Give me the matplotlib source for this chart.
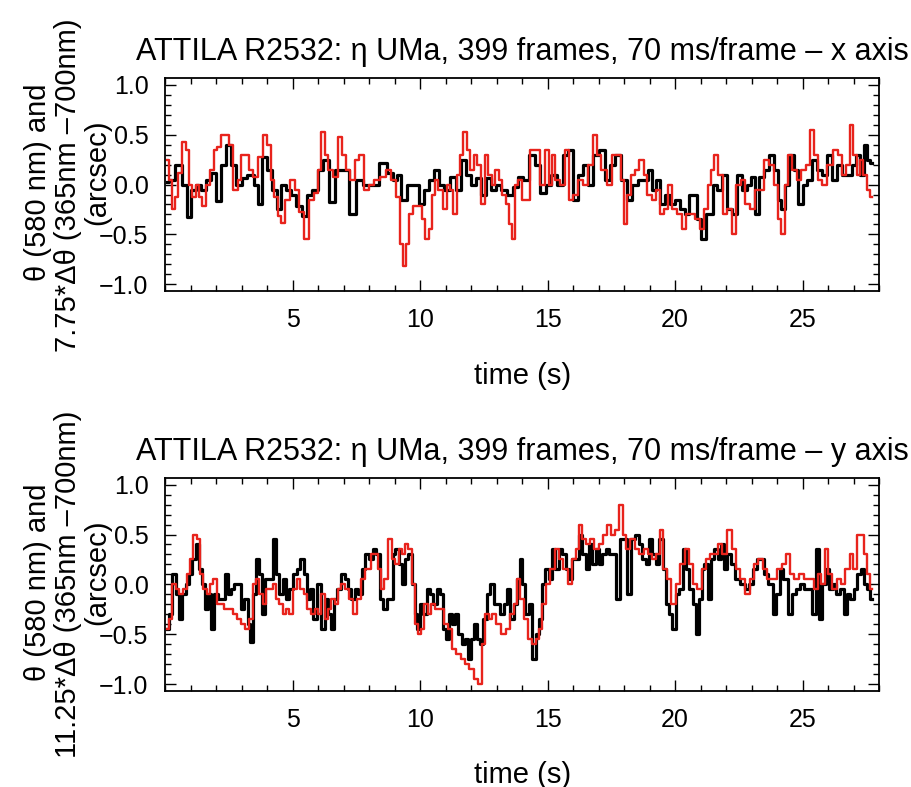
import matplotlib
matplotlib.use("Agg")
import matplotlib.pyplot as plt
from matplotlib.ticker import MultipleLocator

plt.rcParams['font.family'] = ['Liberation Sans', 'DejaVu Sans']

# x axis panel: black = theta(580 nm), red = 7.75*dtheta
x_black_t = [0.06, 0.25, 0.55, 0.75, 0.94, 1.1, 1.3, 1.5, 1.7, 1.9, 2.1, 2.3, 2.5,
             2.7, 2.9, 3.1, 3.35, 3.6, 3.7, 3.9, 4.1, 4.3, 4.45, 4.65, 4.85, 5.05,
             5.25, 5.45, 5.65, 5.9, 6.1, 6.3, 6.55, 6.8, 7.05, 7.35, 7.6, 7.9, 8.2,
             8.6, 8.8, 9.05, 9.14, 9.34, 9.6, 9.86, 10.06, 10.26, 10.45, 10.65,
             10.85, 11.04, 11.31, 11.5, 11.7, 11.9, 12.09, 12.29, 12.49, 12.68,
             12.88, 13.08, 13.27, 13.54, 13.73, 13.93, 14.13, 14.39, 14.59, 14.85,
             15.05, 15.24, 15.51, 15.7, 15.9, 16.1, 16.29, 16.49, 16.69, 16.88,
             17.15, 17.34, 17.54, 17.74, 18.0, 18.2, 18.39, 18.66, 18.85, 19.04,
             19.18, 19.31, 19.5, 19.7, 19.9, 20.09, 20.29, 20.49, 20.62, 20.75,
             20.95, 21.11, 21.28, 21.41, 21.56, 21.74, 21.93, 22.13, 22.33, 22.52,
             22.72, 22.92, 23.05, 23.22, 23.38, 23.57, 23.77, 23.97, 24.1, 24.23,
             24.36, 24.56, 24.75, 24.91, 25.08, 25.28, 25.48, 25.67, 25.87, 26.07,
             26.26, 26.46, 26.66, 26.85, 27.02, 27.18, 27.34, 27.44, 27.57, 27.71]
x_black_v = [0.03, 0.05, 0.2, 0.0, -0.33, -0.05, 0.0, -0.05, 0.05, 0.12, -0.17, 0.2,
             0.4, 0.2, 0.0, 0.07, 0.1, 0.0, -0.2, 0.28, 0.15, -0.05, -0.25, 0.0,
             -0.05, -0.1, -0.22, -0.32, -0.1, -0.05, 0.15, 0.25, -0.18, 0.15, 0.15,
             -0.3, 0.05, 0.0, 0.0, 0.22, 0.12, 0.05, 0.1, -0.15, 0.0, 0.0, -0.2,
             -0.05, 0.05, 0.15, 0.0, -0.05, 0.08, -0.05, 0.25, 0.1, 0.0, 0.07, -0.1,
             0.07, -0.05, 0.0, -0.05, -0.1, -0.02, 0.08, 0.05, 0.3, 0.2, -0.08, 0.0,
             0.1, 0.0, 0.3, 0.35, -0.15, 0.1, 0.2, 0.0, 0.3, 0.35, 0.05, 0.2, 0.3,
             0.05, -0.15, 0.0, 0.05, 0.05, 0.15, -0.05, 0.05, -0.2, -0.1, -0.2,
             -0.15, -0.25, -0.3, -0.1, -0.1, -0.35, -0.55, -0.3, -0.3, 0.0, -0.05,
             0.1, -0.25, -0.3, 0.1, -0.05, 0.0, 0.08, -0.3, 0.08, 0.15, 0.3, 0.15,
             -0.15, -0.25, 0.0, 0.3, 0.15, -0.2, 0.0, 0.05, 0.25, 0.15, 0.1, 0.3,
             0.05, 0.2, 0.1, 0.1, 0.2, 0.3, 0.1, 0.4, 0.25, 0.22]

x_red_t = [0.09, 0.22, 0.31, 0.44, 0.61, 0.74, 0.87, 1.0, 1.14, 1.27, 1.4, 1.53,
           1.66, 1.86, 1.99, 2.12, 2.25, 2.45, 2.58, 2.78, 2.91, 3.04, 3.23, 3.37,
           3.56, 3.76, 3.89, 4.09, 4.22, 4.35, 4.48, 4.61, 4.81, 5.01, 5.14, 5.33,
           5.53, 5.73, 5.92, 6.06, 6.19, 6.32, 6.45, 6.71, 6.84, 7.04, 7.17, 7.37,
           7.5, 7.7, 7.89, 8.09, 8.29, 8.55, 8.75, 8.94, 9.14, 9.27, 9.35, 9.53,
           9.63, 9.8, 9.99, 10.12, 10.28, 10.39, 10.52, 10.62, 10.78, 10.98, 11.11,
           11.24, 11.37, 11.5, 11.63, 11.77, 11.9, 12.03, 12.16, 12.29, 12.46,
           12.59, 12.75, 12.88, 13.01, 13.14, 13.3, 13.43, 13.54, 13.64, 13.77,
           13.9, 14.06, 14.26, 14.39, 14.59, 14.78, 14.98, 15.11, 15.24, 15.37,
           15.57, 15.77, 15.9, 16.1, 16.29, 16.49, 16.69, 16.88, 17.01, 17.21,
           17.41, 17.61, 17.8, 17.93, 18.06, 18.2, 18.33, 18.52, 18.68, 18.85,
           18.98, 19.18, 19.33, 19.46, 19.64, 19.79, 19.96, 20.16, 20.36, 20.49,
           20.69, 20.88, 21.08, 21.21, 21.34, 21.47, 21.6, 21.77, 21.96, 22.13,
           22.33, 22.48, 22.65, 22.82, 23.05, 23.18, 23.38, 23.57, 23.77, 23.97,
           24.1, 24.23, 24.36, 24.49, 24.69, 24.88, 25.02, 25.21, 25.37, 25.5,
           25.67, 25.87, 26.07, 26.29, 26.46, 26.62, 26.79, 26.89, 27.05, 27.18,
           27.31, 27.44, 27.6, 27.71]
x_red_v = [0.25, 0.05, -0.25, -0.12, 0.12, 0.43, 0.35, 0.0, -0.12, 0.0, -0.12,
           -0.22, 0.0, 0.15, 0.35, 0.38, 0.5, 0.5, 0.4, -0.05, 0.05, 0.3, 0.3,
           0.15, 0.08, 0.28, 0.5, 0.4, 0.05, -0.12, -0.32, -0.39, -0.15, 0.05,
           -0.05, -0.28, -0.55, -0.15, -0.08, 0.15, 0.53, 0.3, 0.15, 0.08, 0.48,
           0.3, 0.15, 0.05, 0.25, 0.3, -0.05, 0.0, 0.05, 0.08, 0.15, 0.05, -0.12,
           -0.6, -0.82, -0.6, -0.3, -0.22, -0.22, -0.35, -0.55, -0.45, -0.1, 0.05,
           -0.05, -0.25, 0.0, -0.05, -0.3, 0.1, 0.3, 0.53, 0.35, 0.15, 0.3, 0.2,
           -0.2, 0.3, 0.1, 0.0, 0.15, 0.05, -0.1, -0.2, -0.4, -0.55, 0.0, 0.05,
           -0.15, -0.15, 0.35, 0.35, 0.0, 0.35, 0.0, 0.3, 0.05, 0.0, 0.35, -0.15,
           -0.1, 0.05, 0.0, 0.2, 0.5, 0.3, 0.15, 0.0, 0.3, 0.3, 0.05, -0.4, -0.1,
           0.1, 0.15, 0.25, 0.1, -0.1, -0.15, -0.05, -0.3, -0.25, 0.0, -0.25, -0.3,
           -0.45, -0.3, -0.3, -0.35, -0.45, -0.25, 0.0, 0.15, 0.3, 0.1, -0.3,
           -0.25, -0.5, 0.0, 0.05, -0.2, -0.25, -0.05, -0.05, 0.25, 0.2, 0.0,
           -0.35, -0.5, 0.0, 0.3, 0.15, 0.05, 0.15, 0.2, 0.55, 0.3, 0.05, 0.0, 0.2,
           0.35, 0.3, 0.1, 0.2, 0.6, 0.3, 0.1, 0.25, 0.1, -0.05, -0.12]

# y axis panel: black = theta(580 nm), red = 11.25*dtheta
y_black_t = [0.09, 0.22, 0.35, 0.48, 0.61, 0.74, 0.87, 1.0, 1.14, 1.27, 1.4, 1.53,
             1.62, 1.73, 1.86, 1.99, 2.19, 2.32, 2.41, 2.51, 2.64, 2.78, 2.91, 3.04,
             3.17, 3.3, 3.39, 3.5, 3.63, 3.76, 3.85, 3.98, 4.15, 4.29, 4.42, 4.55,
             4.68, 4.81, 4.94, 5.07, 5.24, 5.37, 5.5, 5.64, 5.73, 5.86, 6.06, 6.19,
             6.32, 6.45, 6.56, 6.69, 6.82, 6.98, 7.11, 7.24, 7.37, 7.5, 7.66, 7.79,
             7.92, 8.09, 8.22, 8.35, 8.48, 8.62, 8.75, 8.88, 8.97, 9.1, 9.21, 9.34,
             9.47, 9.6, 9.73, 9.84, 9.93, 10.06, 10.19, 10.32, 10.45, 10.58, 10.72,
             10.85, 10.98, 11.07, 11.17, 11.31, 11.44, 11.57, 11.7, 11.83, 11.94,
             12.07, 12.16, 12.29, 12.42, 12.55, 12.68, 12.82, 12.95, 13.08, 13.21,
             13.34, 13.47, 13.6, 13.73, 13.87, 13.96, 14.06, 14.19, 14.32, 14.46,
             14.59, 14.72, 14.85, 14.98, 15.11, 15.24, 15.37, 15.51, 15.64, 15.77,
             15.9, 16.03, 16.16, 16.29, 16.42, 16.56, 16.69, 16.82, 16.95, 17.08,
             17.21, 17.34, 17.47, 17.61, 17.76, 17.89, 18.02, 18.2, 18.33, 18.52,
             18.65, 18.78, 18.91, 19.04, 19.18, 19.31, 19.44, 19.57, 19.7, 19.83,
             19.96, 20.09, 20.23, 20.36, 20.49, 20.62, 20.75, 20.88, 20.99, 21.08,
             21.21, 21.34, 21.47, 21.6, 21.74, 21.87, 21.96, 22.09, 22.26, 22.46,
             22.65, 22.82, 22.98, 23.14, 23.27, 23.4, 23.57, 23.74, 23.9, 24.03,
             24.16, 24.33, 24.49, 24.66, 24.82, 24.98, 25.15, 25.32, 25.45, 25.58,
             25.71, 25.84, 25.97, 26.1, 26.26, 26.39, 26.55, 26.68, 26.81, 26.94,
             27.08, 27.21, 27.34, 27.47, 27.6, 27.71]
y_black_v = [-0.45, -0.3, 0.1, -0.1, -0.35, -0.1, 0.0, 0.1, 0.25, 0.4, 0.15, 0.0,
             -0.25, -0.1, -0.45, -0.1, -0.15, -0.15, 0.1, -0.1, -0.05, 0.0, 0.0,
             -0.25, -0.15, -0.4, -0.58, -0.1, 0.25, 0.1, -0.3, 0.05, 0.05, 0.45,
             0.1, -0.1, 0.05, -0.15, -0.05, 0.1, 0.15, 0.25, 0.1, -0.15, -0.05,
             -0.35, 0.0, -0.45, -0.15, -0.3, -0.45, -0.15, -0.05, 0.1, 0.05, -0.05,
             -0.15, -0.05, -0.1, 0.15, 0.3, 0.25, 0.35, 0.3, -0.15, -0.25, -0.15,
             -0.15, 0.3, 0.35, 0.2, 0.0, 0.25, 0.3, 0.0, -0.3, -0.45, -0.2, -0.3,
             -0.05, -0.1, -0.2, -0.05, -0.1, -0.45, -0.55, -0.3, -0.4, -0.3, -0.5,
             -0.6, -0.55, -0.75, -0.55, -0.4, -0.55, -0.6, -0.35, -0.1, 0.0, -0.2,
             -0.2, -0.3, -0.2, -0.05, -0.35, -0.2, 0.05, 0.25, 0.0, -0.3, -0.2,
             -0.75, -0.5, -0.35, 0.0, 0.15, 0.05, 0.35, 0.15, 0.35, 0.3, 0.15, 0.05,
             0.25, 0.25, 0.5, 0.3, 0.15, 0.4, 0.2, 0.35, 0.2, 0.3, 0.35, 0.3, 0.3,
             -0.15, 0.45, 0.45, -0.1, 0.45, 0.5, 0.4, 0.25, 0.2, 0.45, 0.3, 0.2,
             0.45, 0.15, -0.2, -0.3, -0.45, -0.1, -0.05, 0.35, 0.15, -0.05, -0.2,
             -0.5, -0.15, 0.15, 0.2, -0.15, 0.25, 0.35, 0.25, 0.4, 0.15, 0.3, 0.2,
             0.05, 0.0, -0.05, 0.0, 0.15, 0.25, 0.25, 0.1, 0.0, -0.3, -0.1, 0.15,
             0.05, -0.3, -0.1, -0.05, 0.0, -0.05, -0.05, -0.3, 0.35, -0.35, 0.0,
             0.15, -0.05, 0.0, -0.1, -0.05, -0.3, -0.1, -0.15, -0.05, 0.1, 0.15,
             0.0, -0.05, -0.15]

y_red_t = [0.09, 0.22, 0.35, 0.48, 0.61, 0.78, 0.94, 1.04, 1.17, 1.31, 1.44, 1.57,
           1.7, 1.83, 1.96, 2.12, 2.25, 2.41, 2.58, 2.75, 2.91, 3.06, 3.23, 3.37,
           3.5, 3.63, 3.76, 3.89, 4.02, 4.15, 4.29, 4.42, 4.55, 4.68, 4.81, 4.94,
           5.07, 5.24, 5.37, 5.5, 5.64, 5.79, 5.93, 6.06, 6.19, 6.32, 6.45, 6.58,
           6.71, 6.84, 6.98, 7.11, 7.3, 7.47, 7.6, 7.76, 7.89, 8.02, 8.16, 8.29,
           8.39, 8.52, 8.68, 8.81, 8.97, 9.1, 9.23, 9.34, 9.47, 9.6, 9.73, 9.86,
           9.99, 10.1, 10.23, 10.36, 10.49, 10.65, 10.85, 11.04, 11.17, 11.33,
           11.5, 11.67, 11.83, 12.03, 12.2, 12.36, 12.49, 12.62, 12.75, 12.91,
           13.08, 13.28, 13.47, 13.6, 13.73, 13.87, 14.0, 14.17, 14.32, 14.46,
           14.59, 14.72, 14.85, 15.01, 15.18, 15.37, 15.53, 15.7, 15.87, 16.03,
           16.16, 16.29, 16.42, 16.58, 16.75, 16.92, 17.08, 17.24, 17.41, 17.58,
           17.74, 17.89, 18.02, 18.16, 18.33, 18.52, 18.68, 18.85, 19.02, 19.18,
           19.33, 19.46, 19.6, 19.77, 19.94, 20.09, 20.29, 20.46, 20.62, 20.78,
           20.95, 21.12, 21.28, 21.43, 21.6, 21.77, 21.93, 22.13, 22.3, 22.46,
           22.65, 22.85, 23.01, 23.18, 23.35, 23.51, 23.7, 23.9, 24.1, 24.29,
           24.43, 24.58, 24.75, 24.95, 25.15, 25.34, 25.54, 25.67, 25.8, 25.93,
           26.07, 26.26, 26.42, 26.59, 26.76, 26.92, 27.05, 27.21, 27.34, 27.47,
           27.6, 27.71]
y_red_v = [-0.45, -0.35, 0.0, -0.05, -0.1, -0.05, 0.1, 0.25, 0.5, 0.45, 0.1, -0.05,
           -0.1, 0.0, 0.05, -0.2, -0.2, -0.25, -0.25, -0.3, -0.35, -0.4, -0.45,
           -0.35, 0.0, 0.05, -0.1, -0.2, -0.05, -0.05, 0.0, -0.15, -0.2, -0.3,
           -0.25, -0.3, -0.05, 0.05, -0.05, -0.1, -0.25, -0.3, -0.25, -0.3, -0.1,
           -0.35, -0.25, -0.15, -0.2, -0.05, 0.0, -0.05, -0.15, -0.3, -0.15, 0.05,
           0.15, 0.15, 0.3, 0.3, 0.15, -0.05, 0.05, 0.45, 0.25, 0.2, 0.35, 0.3,
           0.4, 0.35, 0.0, -0.4, -0.5, -0.45, -0.2, -0.3, -0.2, -0.25, -0.25, -0.4,
           -0.45, -0.65, -0.7, -0.75, -0.8, -0.85, -0.95, -1.0, -0.6, -0.3, -0.35,
           -0.3, -0.4, -0.5, -0.45, -0.3, -0.2, 0.05, -0.15, -0.35, -0.55, -0.6,
           -0.55, -0.45, -0.2, 0.0, 0.15, 0.35, 0.25, 0.15, 0.0, 0.25, 0.35, 0.6,
           0.45, 0.4, 0.45, 0.35, 0.4, 0.5, 0.6, 0.5, 0.55, 0.8, 0.5, 0.35, 0.45,
           0.35, 0.3, 0.35, 0.3, 0.25, 0.3, 0.55, 0.15, 0.05, -0.2, 0.0, 0.2, 0.35,
           0.2, 0.0, -0.05, 0.15, 0.25, 0.3, 0.3, 0.4, 0.3, 0.55, 0.35, 0.15, 0.05,
           -0.1, 0.05, 0.2, 0.25, 0.15, 0.05, 0.05, 0.15, 0.2, 0.3, 0.1, 0.05, 0.1,
           0.05, 0.05, -0.05, 0.1, 0.0, 0.35, 0.1, -0.05, 0.05, 0.0, 0.15, 0.3,
           0.15, 0.5, 0.5, 0.3, 0.1, -0.05]

titles = ["ATTILA R2532: \u03b7 UMa, 399 frames, 70 ms/frame \u2013 x axis",
          "ATTILA R2532: \u03b7 UMa, 399 frames, 70 ms/frame \u2013 y axis"]
ylabel_lines = [["\u03b8 (580 nm) and", "7.75*\u0394\u03b8 (365nm \u2013700nm)", "(arcsec)"],
                ["\u03b8 (580 nm) and", "11.25*\u0394\u03b8 (365nm \u2013700nm)", "(arcsec)"]]

fig = plt.figure(figsize=(9.12, 7.87), dpi=100)
ax1 = fig.add_axes([0.181, 0.630, 0.783, 0.271])
ax2 = fig.add_axes([0.181, 0.122, 0.783, 0.271])

panels = [(ax1, x_black_t, x_black_v, x_red_t, x_red_v),
          (ax2, y_black_t, y_black_v, y_red_t, y_red_v)]

# where each y-label line sits, in axes fraction
label_x = [-0.178, -0.136, -0.095]
label_y = [0.512, 0.498, 0.559]

for i, (ax, bt, bv, rt, rv) in enumerate(panels):
    ax.plot(bt, bv, color='black', lw=2.3, drawstyle='steps-mid')
    ax.plot(rt, rv, color='#e8231c', lw=1.7, drawstyle='steps-mid')
    ax.set_xlim(0, 28.0)
    ax.set_ylim(-1.07, 1.07)
    ax.xaxis.set_major_locator(MultipleLocator(5))
    ax.xaxis.set_minor_locator(MultipleLocator(1))
    ax.yaxis.set_major_locator(MultipleLocator(0.5))
    ax.yaxis.set_minor_locator(MultipleLocator(0.1))
    ax.set_xticks([5, 10, 15, 20, 25])
    ax.set_yticks([-1.0, -0.5, 0.0, 0.5, 1.0])
    ax.set_yticklabels(['\u22121.0', '\u22120.5', '0.0', '0.5', '1.0'])
    ax.tick_params(which='both', direction='in', top=True, right=True,
                   labelsize=18, width=1.0)
    ax.tick_params(which='major', length=8, pad=12)
    ax.tick_params(which='minor', length=4)
    for s in ax.spines.values():
        s.set_linewidth(1.3)
    ax.set_title(titles[i], fontsize=22, pad=13)
    ax.set_xlabel('time (s)', fontsize=21, labelpad=22 - i)
    for line, lx, ly in zip(ylabel_lines[i], label_x, label_y):
        ax.text(lx, ly, line, transform=ax.transAxes, rotation=90,
                ha='center', va='center', fontsize=21)

fig.savefig('out.png', dpi=100)
